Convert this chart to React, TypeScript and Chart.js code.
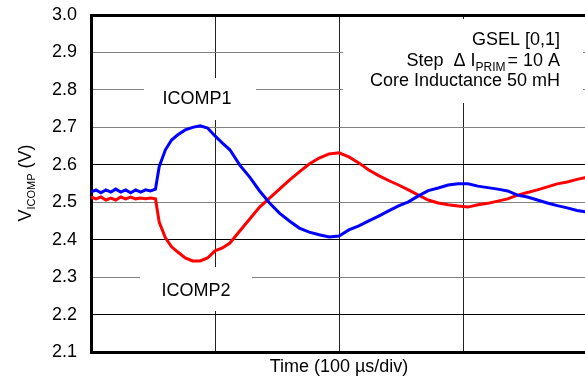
import React, { useEffect, useRef } from "react";
import { Chart, registerables } from "chart.js";

Chart.register(...registerables);

// Time in µs (100 µs per division)
const timeUs = [
  0, 4, 8, 12, 16, 20, 24, 28, 32, 36, 40, 44, 48, 52,
  55, 60, 65, 70, 76, 82, 88, 94, 100, 106, 112, 120, 128, 136, 144, 152,
  160, 168, 176, 184, 192, 200, 208, 216, 224, 232, 240, 248, 256, 264,
  272, 280, 288, 296, 304, 312, 320, 328, 336, 344, 352, 360, 368, 376,
  384, 392, 400,
];

const icomp1 = [
  2.527, 2.533, 2.525, 2.533, 2.527, 2.535, 2.527, 2.533, 2.525, 2.533, 2.527, 2.533, 2.53, 2.535,
  2.595, 2.64, 2.666, 2.68, 2.693, 2.7, 2.704, 2.698, 2.677, 2.658, 2.64, 2.599, 2.567, 2.53, 2.498, 2.471,
  2.45, 2.431, 2.42, 2.413, 2.407, 2.41, 2.426, 2.437, 2.45, 2.463, 2.477, 2.49, 2.501, 2.517,
  2.531, 2.538, 2.546, 2.549, 2.549, 2.543, 2.539, 2.535, 2.53, 2.519, 2.514, 2.506, 2.498, 2.491,
  2.485, 2.478, 2.474,
];

const icomp2 = [
  2.514, 2.509, 2.514, 2.506, 2.511, 2.506, 2.514, 2.509, 2.514, 2.509, 2.511, 2.509, 2.511, 2.509,
  2.447, 2.405, 2.381, 2.367, 2.351, 2.343, 2.343, 2.351, 2.37, 2.378, 2.391, 2.423, 2.455, 2.487, 2.511, 2.535,
  2.559, 2.581, 2.602, 2.618, 2.629, 2.632, 2.621, 2.605, 2.586, 2.571, 2.558, 2.546, 2.533, 2.519,
  2.506, 2.498, 2.493, 2.49, 2.487, 2.493, 2.497, 2.503, 2.509, 2.519, 2.526, 2.533, 2.541, 2.549,
  2.554, 2.561, 2.567,
];

const yMin = 2.1;
const yMax = 3.0;
const yStep = 0.1;
const xMin = 0;
const xMax = 400;
const xStep = 100;

const grayGridValues = ["2.9", "2.8", "2.7", "2.5", "2.3"];

const FONT = "'Liberation Sans', Arial, Helvetica, sans-serif";
const FS = 18;

const labelPlugin = {
  id: "labelBoxes",
  beforeDatasetsDraw(chart: any) {
    const ctx = chart.ctx as CanvasRenderingContext2D;
    const top = chart.chartArea.top;
    ctx.save();
    ctx.fillStyle = "#ffffff";
    ctx.fillRect(144, 78, 112, 42);
    ctx.fillRect(140, 267, 112, 44);
    ctx.fillRect(343, top + 4, 240, 103 - top - 4);

    ctx.fillStyle = "#000";
    ctx.font = `${FS}px ${FONT}`;
    ctx.textBaseline = "middle";
    ctx.textAlign = "center";
    ctx.fillText("ICOMP1", 197, 99);
    ctx.fillText("ICOMP2", 196, 291);

    ctx.textAlign = "right";
    ctx.fillText("GSEL [0,1]", 560, 40);
    ctx.fillText("Core Inductance 50 mH", 560, 81);

    // Step  Δ I_PRIM = 10 A
    const mainFont = `${FS}px ${FONT}`;
    const subFont = `12px ${FONT}`;
    const p1 = "Step  \u0394 I";
    const p2 = "PRIM";
    const p3 = "= 10 A";
    ctx.textAlign = "left";
    ctx.textBaseline = "alphabetic";
    ctx.font = mainFont;
    const w1 = ctx.measureText(p1).width;
    const w3 = ctx.measureText(p3).width;
    ctx.font = subFont;
    const w2 = ctx.measureText(p2).width;
    const gap = 2;
    const total = w1 + w2 + gap + w3;
    let x = 560 - total;
    const base = 66;
    ctx.font = mainFont;
    ctx.fillText(p1, x, base);
    x += w1;
    ctx.font = subFont;
    ctx.fillText(p2, x, base + 5);
    x += w2 + gap;
    ctx.font = mainFont;
    ctx.fillText(p3, x, base);
    ctx.restore();
  },
  afterDraw(chart: any) {
    const ctx = chart.ctx as CanvasRenderingContext2D;
    ctx.save();
    ctx.translate(31, 183);
    ctx.rotate(-Math.PI / 2);
    ctx.fillStyle = "#000";
    ctx.textBaseline = "alphabetic";
    ctx.textAlign = "left";
    const mainFont = `${FS}px ${FONT}`;
    const subFont = `11px ${FONT}`;
    ctx.font = mainFont;
    const wV = ctx.measureText("V").width;
    const wU = ctx.measureText(" (V)").width;
    ctx.font = subFont;
    const wS = ctx.measureText("ICOMP").width;
    const total = wV + wS + wU;
    let x = -total / 2;
    ctx.font = mainFont;
    ctx.fillText("V", x, 0);
    x += wV;
    ctx.font = subFont;
    ctx.fillText("ICOMP", x, 4);
    x += wS;
    ctx.font = mainFont;
    ctx.fillText(" (V)", x, 0);
    ctx.restore();
  },
};

export default function App() {
  const canvasRef = useRef<HTMLCanvasElement | null>(null);

  useEffect(() => {
    if (!canvasRef.current) return;
    Chart.defaults.font.family = FONT;
    const chart = new Chart(canvasRef.current, {
      type: "line",
      data: {
        datasets: [
          {
            label: "ICOMP1",
            data: timeUs.map((t, i) => ({ x: t, y: icomp1[i] })),
            borderColor: "#0000ff",
            borderWidth: 3,
            pointRadius: 0,
            tension: 0,
            fill: false,
          },
          {
            label: "ICOMP2",
            data: timeUs.map((t, i) => ({ x: t, y: icomp2[i] })),
            borderColor: "#ff0000",
            borderWidth: 3,
            pointRadius: 0,
            tension: 0,
            fill: false,
          },
        ],
      },
      options: {
        responsive: false,
        animation: false,
        events: [],
        layout: { padding: { top: 15, right: 5, left: 0, bottom: 0 } },
        plugins: {
          legend: { display: false },
          tooltip: { enabled: false },
        },
        scales: {
          x: {
            type: "linear",
            min: xMin,
            max: xMax,
            afterFit: (scale: any) => {
              scale.height = 29;
              scale.paddingLeft = 0;
              scale.paddingRight = 0;
            },
            ticks: { stepSize: xStep, display: false },
            grid: { color: "#222", lineWidth: 1, drawTicks: false },
            border: { display: true, color: "#000", width: 3 },
            title: {
              display: true,
              text: "Time (100 µs/div)",
              color: "#000",
              font: { size: FS, family: FONT },
              padding: { top: 0, bottom: 3 },
            },
          },
          y: {
            type: "linear",
            min: yMin,
            max: yMax,
            afterFit: (scale: any) => {
              scale.width = 91;
              scale.paddingTop = 0;
              scale.paddingBottom = 0;
            },
            ticks: {
              stepSize: yStep,
              color: "#000",
              font: { size: FS, family: FONT },
              padding: 14,
              callback: (v: any) => Number(v).toFixed(1),
            },
            grid: {
              drawTicks: false,
              color: (c: any) => {
                const key = Number(c.tick?.value).toFixed(1);
                if (key === "3.0") return "#000";
                return grayGridValues.includes(key) ? "#808080" : "#000";
              },
              lineWidth: (c: any) => {
                const key = Number(c.tick?.value).toFixed(1);
                return key === "3.0" ? 3 : 1;
              },
            },
            border: { display: true, color: "#000", width: 3 },
          },
        },
      },
      plugins: [labelPlugin],
    });
    return () => chart.destroy();
  }, []);

  return (
    <div
      style={{
        position: "absolute",
        left: 0,
        top: 0,
        width: 585,
        height: 381,
        overflow: "hidden",
        background: "#fff",
      }}
    >
      <canvas
        ref={canvasRef}
        width={592}
        height={381}
        style={{ width: 592, height: 381, display: "block" }}
      />
    </div>
  );
}
